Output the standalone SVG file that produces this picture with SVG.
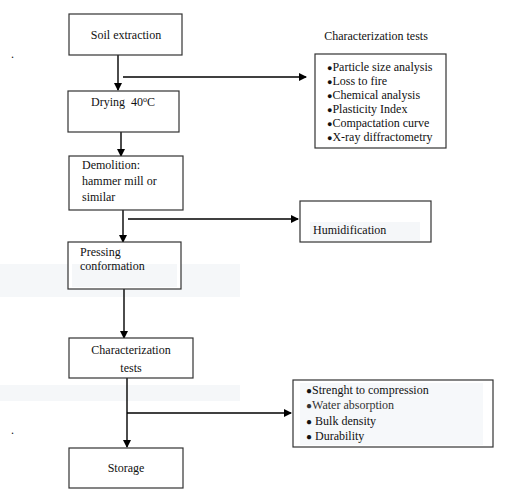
<svg xmlns="http://www.w3.org/2000/svg" width="517" height="492" viewBox="0 0 517 492">
<style>
.box{fill:#fff;stroke:#333;stroke-width:1.2}
.t{font-family:"Liberation Serif","Times New Roman",serif;font-size:12px;fill:#111}
.c{text-anchor:middle}
.ln{stroke:#000;stroke-width:1.4;fill:none}
.band{fill:#f5f7f9}
</style>
<defs>
<marker id="ah" markerWidth="8" markerHeight="8" refX="7" refY="4" orient="auto" markerUnits="userSpaceOnUse">
<path d="M0,0 L8,4 L0,8 Z" fill="#000"/>
</marker>
</defs>
<rect width="517" height="492" fill="#fff"/>
<rect class="band" x="0" y="264" width="240" height="33"/>
<rect class="band" x="0" y="385" width="240" height="16"/>
<text class="t" x="11" y="58" font-size="8">.</text>
<text class="t" x="11" y="434" font-size="8">.</text>

<g id="connectors">
<line class="ln" x1="118" y1="55" x2="118" y2="90" marker-end="url(#ah)"/>
<line class="ln" x1="123" y1="77" x2="306" y2="77" marker-end="url(#ah)"/>
<line class="ln" x1="121" y1="132" x2="121" y2="156" marker-end="url(#ah)"/>
<line class="ln" x1="123" y1="210" x2="123" y2="242" marker-end="url(#ah)"/>
<line class="ln" x1="128" y1="219" x2="298" y2="219" marker-end="url(#ah)"/>
<line class="ln" x1="124" y1="289" x2="124" y2="338" marker-end="url(#ah)"/>
<line class="ln" x1="127" y1="378" x2="127" y2="447" marker-end="url(#ah)"/>
<line class="ln" x1="127" y1="413" x2="291" y2="413" marker-end="url(#ah)"/>
</g>

<g id="soil">
<rect class="box" x="69" y="14" width="113" height="41"/>
<text class="t c" x="126" y="39">Soil extraction</text>
</g>

<g id="drying">
<rect class="box" x="68" y="91" width="111" height="41"/>
<text class="t" x="91" y="106">Drying&#160; 40<tspan font-size="8" dy="-4">o</tspan><tspan dy="4">C</tspan></text>
</g>

<g id="demolition">
<rect class="box" x="69" y="156" width="114" height="54"/>
<text class="t" x="82" y="169">Demolition:</text>
<text class="t" x="82" y="185">hammer mill or</text>
<text class="t" x="82" y="201">similar</text>
</g>

<g id="humidification">
<rect class="box" x="300" y="201" width="131" height="41" stroke="#666"/>
<rect x="310" y="222" width="110" height="19" fill="#f5f7f9"/>
<text class="t" x="313" y="234">Humidification</text>
</g>

<g id="pressing">
<rect class="box" x="68" y="242" width="113" height="47"/>
<rect x="72" y="264" width="105" height="23" fill="#f5f7f9"/>
<text class="t" x="80" y="256">Pressing</text>
<text class="t" x="80" y="270">conformation</text>
</g>

<g id="characterization">
<rect class="box" x="69" y="338" width="124" height="40"/>
<text class="t c" x="131" y="354">Characterization</text>
<text class="t c" x="131" y="372">tests</text>
</g>

<g id="storage">
<rect class="box" x="69" y="448" width="114" height="40"/>
<text class="t c" x="126" y="472">Storage</text>
</g>

<g id="char-tests">
<text class="t c" x="376" y="40">Characterization tests</text>
<rect class="box" x="315" y="54" width="131" height="94" stroke="#666" stroke-width="1.5"/>
<g class="t" font-size="11.5">
<text x="327" y="71"><tspan font-size="9">●</tspan>Particle size analysis</text>
<text x="327" y="85"><tspan font-size="9">●</tspan>Loss to fire</text>
<text x="327" y="99"><tspan font-size="9">●</tspan>Chemical analysis</text>
<text x="327" y="113"><tspan font-size="9">●</tspan>Plasticity Index</text>
<text x="327" y="127"><tspan font-size="9">●</tspan>Compactation curve</text>
<text x="327" y="141"><tspan font-size="9">●</tspan>X-ray diffractometry</text>
</g>
</g>

<g id="results">
<rect class="box" x="293" y="380" width="200" height="67"/>
<rect x="300" y="383" width="183" height="62" fill="#f6f8fa"/>
<g class="t" font-size="12.5">
<text x="306" y="394"><tspan font-size="10">●</tspan>Strenght to compression</text>
<text x="306" y="409" fill="#333"><tspan font-size="10">●</tspan>Water absorption</text>
<text x="306" y="425"><tspan font-size="10">●</tspan> Bulk density</text>
<text x="306" y="440"><tspan font-size="10">●</tspan> Durability</text>
</g>
</g>
</svg>
